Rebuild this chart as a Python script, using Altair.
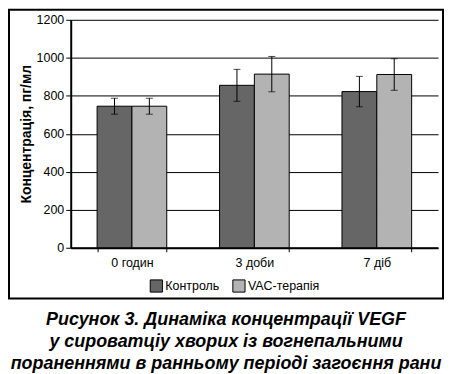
import altair as alt
import pandas as pd

categories = ["0 годин", "3 доби", "7 діб"]
groups = ["Контроль", "VAC-терапія"]
control_mean = [745, 855, 822]
control_err = [42, 84, 80]
vac_mean = [745, 914, 912]
vac_err = [42, 93, 83]
y_ticks = [0, 200, 400, 600, 800, 1000, 1200]
colors = ["#666666", "#b3b3b3"]
title_lines = [
    "Рисунок 3. Динаміка концентрації VEGF",
    "у сироватціу хворих із вогнепальними",
    "пораненнями в ранньому періоді загоєння рани",
]

rows = []
for i, c in enumerate(categories):
    for g, m, e in ((groups[0], control_mean, control_err), (groups[1], vac_mean, vac_err)):
        rows.append(dict(cat=c, grp=g, mean=m[i], lo=m[i] - e[i], hi=m[i] + e[i]))
df = pd.DataFrame(rows)

W, H = 369, 229
FONT = "Liberation Sans"

x = alt.X(
    "cat:N",
    sort=categories,
    scale=alt.Scale(paddingInner=0.431, paddingOuter=0.2155),
    axis=alt.Axis(
        title=None, labelAngle=0, tickBand="extent", tickSize=4, tickColor="black",
        domainColor="black", domainWidth=2, labelFont=FONT, labelFontSize=12.5,
        labelColor="black", labelPadding=5, grid=False,
    ),
)
xo = alt.XOffset("grp:N", sort=groups, scale=alt.Scale(paddingInner=0, paddingOuter=0))
yscale = alt.Scale(domain=[0, 1200], nice=False)
yaxis = alt.Axis(
    values=y_ticks, format="d", labelOverlap=False, tickCount=7,
    title="Концентрація, пг/мл", titleFont=FONT, titleFontSize=14,
    titleFontWeight="bold", titleColor="black", titlePadding=3,
    labelFont=FONT, labelFontSize=12.5, labelColor="black", labelPadding=2,
    tickSize=5, tickColor="black", domainColor="black", domainWidth=2,
    grid=True, gridColor="black", gridWidth=1,
)

base = alt.Chart(df)
frame = alt.Chart(pd.DataFrame({"k": [0]})).mark_rect(
    fill="white", fillOpacity=0, stroke="black", strokeWidth=2
).encode(x=alt.value(-62), x2=alt.value(374), y=alt.value(-10), y2=alt.value(280))

bars = base.mark_bar(stroke="black", strokeWidth=1).encode(
    x=x, xOffset=xo, y=alt.Y("mean:Q", scale=yscale, axis=yaxis),
    color=alt.Color(
        "grp:N", sort=groups, scale=alt.Scale(domain=groups, range=colors),
        legend=alt.Legend(
            title=None, orient="none", direction="horizontal", legendX=79, legendY=260,
            symbolType="square", symbolSize=150, symbolStrokeColor="black",
            symbolStrokeWidth=1, symbolOpacity=1, labelFont=FONT, labelFontSize=12.5,
            labelColor="black", labelOffset=2, columnPadding=10, padding=0,
        ),
    ),
)
rules = base.mark_rule(color="black", strokeWidth=1).encode(
    x=x, xOffset=xo, y=alt.Y("lo:Q", scale=yscale, axis=yaxis), y2="hi:Q"
)
caps_hi = base.mark_tick(color="black", size=7, thickness=1).encode(
    x=x, xOffset=xo, y=alt.Y("hi:Q", scale=yscale, axis=yaxis)
)
caps_lo = base.mark_tick(color="black", size=7, thickness=1).encode(
    x=x, xOffset=xo, y=alt.Y("lo:Q", scale=yscale, axis=yaxis)
)

chart = (
    alt.layer(frame, bars, rules, caps_hi, caps_lo)
    .properties(
        width=W, height=H, padding=0, background="white",
        title=alt.TitleParams(
            text=title_lines, orient="bottom", anchor="middle", frame="bounds",
            font=FONT, fontSize=18, fontStyle="italic", fontWeight="bold",
            lineHeight=22, offset=12, color="black",
        ),
    )
    .configure_view(strokeWidth=0)
)

chart.save("out.html", embed_options={"renderer": "svg", "actions": False})
